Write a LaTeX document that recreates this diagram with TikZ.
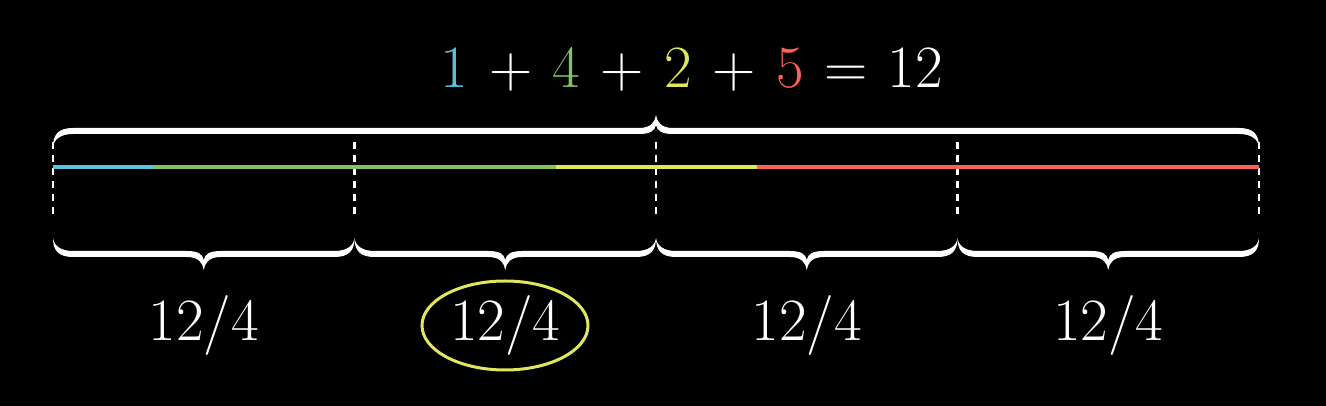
\documentclass[tikz,border=0pt]{standalone}
\usepackage{fontspec}
\definecolor{mblue}{HTML}{58C4DD}
\definecolor{mgreen}{HTML}{83C167}
\definecolor{myellow}{HTML}{E2E65E}
\definecolor{mred}{HTML}{FC6255}
\newcommand{\bracefill}[3]{% #1=a, #2=m, #3=b (local coords)
  \fill[white] (#1,19) .. controls (#1,6) and ({#1+6},0) .. ({#1+20},0)
    -- ({#2-17},0) .. controls ({#2-5},0) and ({#2-1},-6) .. (#2,-13)
    .. controls ({#2+1},-6) and ({#2+5},0) .. ({#2+17},0)
    -- ({#3-20},0) .. controls ({#3-6},0) and (#3,6) .. (#3,19)
    .. controls ({#3-1},11) and ({#3-8},6) .. ({#3-20},6)
    -- ({#2+17},6) .. controls ({#2+6},6) and ({#2+1},3) .. (#2,-3)
    .. controls ({#2-1},3) and ({#2-6},6) .. ({#2-17},6)
    -- ({#1+20},6) .. controls ({#1+8},6) and ({#1+1},11) .. (#1,19) -- cycle;}
\newcommand{\gp}{\hspace{20.5pt}}
\begin{document}
\begin{tikzpicture}[x=1pt,y=1pt,
  seg/.style={line width=3.5pt},
  divider/.style={white,line width=2.8pt,dash pattern=on 7pt off 6pt},
  lbl/.style={text=white,font=\fontsize{60}{64}\selectfont,inner sep=0pt,anchor=base}]
\fill[black] (0,0) rectangle (1326,406);
\useasboundingbox (0,0) rectangle (1326,406);
% coordinates on the line
\coordinate (p0) at (53,239);
\coordinate (p1) at (153.5,239);
\coordinate (p5) at (555.5,239);
\coordinate (p7) at (756.5,239);
\coordinate (p12) at (1259,239);
% dividers
\foreach \i/\x in {0/53,1/354.5,2/656,3/957.5,4/1259}{
  \coordinate (t\i) at (\x,264);
  \coordinate (b\i) at (\x,189);
}
\foreach \i in {0,...,4}{\draw[divider] (t\i) -- (b\i);}
% colored segments
\draw[seg,mblue] (p0) -- (p1);
\draw[seg,mgreen] (p1) -- (p5);
\draw[seg,myellow] (p5) -- (p7);
\draw[seg,mred] (p7) -- (p12);
% top brace
\begin{scope}[shift={(0,278)},yscale=-1]
  \bracefill{53}{656}{1259}
\end{scope}
% bottom braces
\begin{scope}[shift={(0,149)}]
  \bracefill{53}{203.75}{354.5}
  \bracefill{354.5}{505.25}{656}
  \bracefill{656}{806.75}{957.5}
  \bracefill{957.5}{1108.25}{1259}
\end{scope}
% equation
\node[lbl] (eq) at (692,318) {\textcolor{mblue}{1}\gp+\gp\textcolor{mgreen}{4}\gp+\gp\textcolor{myellow}{2}\gp+\gp\textcolor{mred}{5}\gp=\gp12};
% labels
\node[lbl] (l1) at (203.75,65) {12/4};
\node[lbl] (l2) at (505.25,65) {12/4};
\node[lbl] (l3) at (806.75,65) {12/4};
\node[lbl] (l4) at (1108.25,65) {12/4};
\draw[myellow,line width=3pt] (505,80.5) ellipse [x radius=83, y radius=44.5];
\end{tikzpicture}
\end{document}
